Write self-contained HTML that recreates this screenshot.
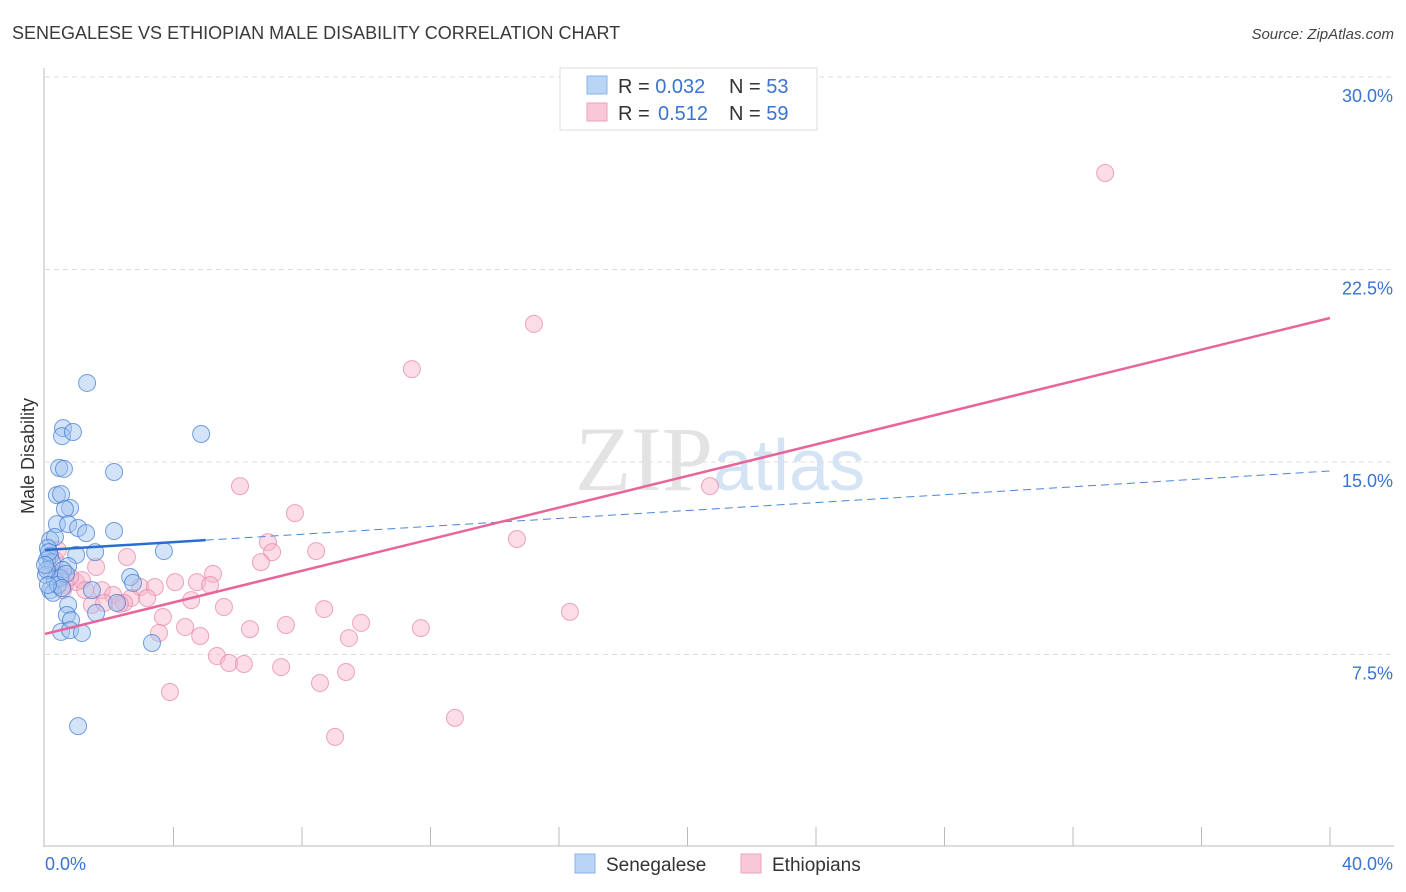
<!DOCTYPE html>
<html><head><meta charset="utf-8"><style>
body{margin:0;background:#fff;font-family:"Liberation Sans",sans-serif;}
</style></head><body>
<svg id="chart" width="1406" height="892" xmlns="http://www.w3.org/2000/svg" style="display:block">
<text x="12" y="39" font-size="18" fill="#3a3a3a">SENEGALESE VS ETHIOPIAN MALE DISABILITY CORRELATION CHART</text>
<text x="1394" y="39" font-size="15" fill="#444" text-anchor="end" font-style="italic">Source: ZipAtlas.com</text>
<text x="720" y="490" font-size="92" text-anchor="middle" fill="#e3e3e3" font-family="Liberation Serif,serif">ZIP<tspan fill="#d5e4f5" font-family="Liberation Sans,sans-serif" font-size="72">atlas</tspan></text>
<text transform="translate(34,456) rotate(-90)" font-size="18" fill="#333" text-anchor="middle">Male Disability</text>
<g id="grid"></g><g id="axes"></g><g id="pts"></g><g id="trends"></g>
<g>
<rect x="560" y="68" width="257" height="62" fill="#fff" stroke="#ddd"/>
<rect x="587" y="76" width="20" height="18" fill="#b9d4f5" stroke="#8ab4ea"/>
<text x="618" y="93" font-size="20" fill="#333">R = <tspan fill="#3a73d0">0.032</tspan><tspan x="729">N = </tspan><tspan fill="#3a73d0">53</tspan></text>
<rect x="587" y="103" width="20" height="18" fill="#f9c8d8" stroke="#eea2bb"/>
<text x="618" y="120" font-size="20" fill="#333">R = <tspan x="658" fill="#3a73d0">0.512</tspan><tspan x="729">N = </tspan><tspan fill="#3a73d0">59</tspan></text>
</g>
<g>
<rect x="575" y="854" width="20" height="19" fill="#b9d4f5" stroke="#8ab4ea"/>
<text x="606" y="871" font-size="19" fill="#333">Senegalese</text>
<rect x="741" y="854" width="20" height="19" fill="#f9c8d8" stroke="#eea2bb"/>
<text x="772" y="871" font-size="19" fill="#333">Ethiopians</text>
</g>
</svg>
<script>
const yTicks=[7.5,15,22.5,30];
const yTickLabels=["7.5%","15.0%","22.5%","30.0%"];
const xTickCount=10;
const xLabels=["0.0%","40.0%"];
const blueX=[1.31,0.56,0.53,0.87,4.86,0.44,0.59,2.15,0.37,0.50,0.78,0.62,0.37,0.72,1.03,1.28,2.15,0.16,0.31,0.09,0.16,1.56,0.97,3.70,0.06,0.22,0.72,0.56,0.03,0.31,0.47,2.65,2.74,0.16,0.25,1.46,0.40,2.24,0.72,1.59,0.68,0.81,0.50,0.78,1.15,3.33,1.03,0.06,0.65,0.53,0.09,0.12,0.0];
const blueY=[18.08,16.32,16.01,16.17,16.09,14.77,14.73,14.61,13.71,13.75,13.21,13.17,12.58,12.58,12.43,12.23,12.31,11.96,12.08,11.65,11.34,11.49,11.38,11.53,11.18,11.10,10.95,10.79,10.60,10.40,10.48,10.52,10.29,10.01,9.90,10.01,10.21,9.51,9.43,9.12,9.04,8.84,8.38,8.45,8.34,7.95,4.71,10.79,10.64,10.09,10.21,11.49,10.99];
const pinkX=[33.0,15.22,11.42,6.07,20.70,7.78,14.69,6.94,7.07,8.44,2.55,6.72,1.59,5.23,4.05,4.73,5.14,0.97,1.15,2.96,3.42,1.77,2.12,2.68,3.18,2.46,4.55,1.46,5.57,8.69,16.34,3.67,4.36,9.84,7.50,6.38,11.70,3.55,4.83,9.46,5.35,5.73,6.19,7.35,9.37,8.56,3.89,12.76,9.03,0.47,0.31,0.62,0.78,1.25,1.84,2.33,0.16,0.40,0.56];
const pinkY=[26.26,20.38,18.62,14.06,14.06,13.01,12.0,11.88,11.49,11.53,11.30,11.10,10.91,10.64,10.32,10.32,10.21,10.32,10.40,10.13,10.13,10.01,9.82,9.70,9.70,9.51,9.62,9.43,9.35,9.27,9.16,8.96,8.57,8.73,8.65,8.49,8.53,8.34,8.22,8.14,7.44,7.17,7.13,7.01,6.82,6.39,6.04,5.03,4.29,10.60,11.18,10.21,10.52,10.01,9.51,9.47,10.79,11.57,10.01];
const blueTrend=[11.57,14.65]; // values at x=0 and x=40
const blueSolidEnd=5;
const pinkTrend=[8.30,20.61];
const NS="http://www.w3.org/2000/svg";
const sx=v=>45+v/40*1285;
const sy=v=>847-v/7.5*192.5;
function mk(t,a,p){const e=document.createElementNS(NS,t);for(const k in a)e.setAttribute(k,a[k]);document.getElementById(p).appendChild(e);return e;}
yTicks.forEach((t,i)=>{
 const l=mk('line',{x1:45,x2:1394,y1:sy(t),y2:sy(t),stroke:'#ddd','stroke-dasharray':'5,4'},'grid');
 
 
 const tx=mk('text',{x:1393,y:sy(t)+25,'font-size':18,fill:'#3a73d0','text-anchor':'end'},'axes');
 tx.textContent=yTickLabels[i];
 
 
});
const ax=mk('line',{x1:44,x2:44,y1:68,y2:847,stroke:'#bbb'},'axes');


const bx=mk('line',{x1:44,x2:1394,y1:846,y2:846,stroke:'#bbb'},'axes');


for(let i=1;i<=xTickCount;i++){const xv=40*i/xTickCount;const t=mk('line',{x1:sx(xv),x2:sx(xv),y1:827,y2:846,stroke:'#bbb'},'axes');
 
 }
[[0,'start',45],[40,'end',1393]].forEach((d,i)=>{const t=mk('text',{x:d[2],y:870,'font-size':18,fill:'#3a73d0','text-anchor':d[1]},'axes');t.textContent=xLabels[i];
 
 });
pinkX.forEach((x,i)=>{const c=mk('circle',{cx:sx(x),cy:sy(pinkY[i]),r:8.5,fill:'rgba(248,180,202,0.45)',stroke:'rgba(230,130,165,0.7)','stroke-width':1},'pts');
 
 });
blueX.forEach((x,i)=>{const c=mk('circle',{cx:sx(x),cy:sy(blueY[i]),r:8.5,fill:'rgba(160,196,240,0.45)',stroke:'rgba(60,120,210,0.7)','stroke-width':1},'pts');
 
 });
const by=x=>blueTrend[0]+(blueTrend[1]-blueTrend[0])*x/40;
const b1=mk('line',{x1:sx(0),y1:sy(by(0)),x2:sx(blueSolidEnd),y2:sy(by(blueSolidEnd)),stroke:'#2a6dd0','stroke-width':2.5},'trends');


const b2=mk('line',{x1:sx(blueSolidEnd),y1:sy(by(blueSolidEnd)),x2:sx(40),y2:sy(by(40)),stroke:'#4a85d8','stroke-width':1,'stroke-dasharray':'8,5'},'trends');


const p1=mk('line',{x1:sx(0),y1:sy(pinkTrend[0]),x2:sx(40),y2:sy(pinkTrend[1]),stroke:'#e8649a','stroke-width':2.5},'trends');


</script>
</body></html>
